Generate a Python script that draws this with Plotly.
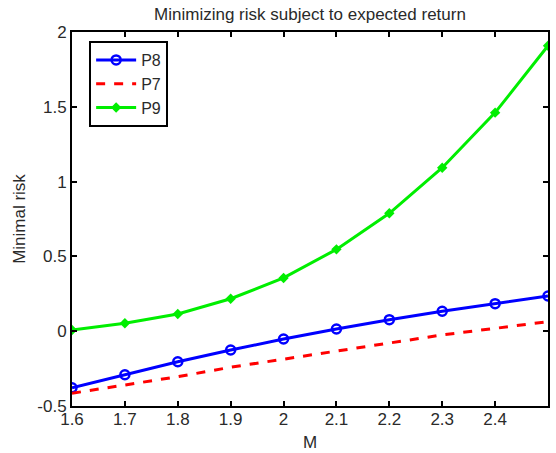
import plotly.graph_objects as go

M = [1.6, 1.7, 1.8, 1.9, 2.0, 2.1, 2.2, 2.3, 2.4, 2.5]
P8 = [-0.378, -0.291, -0.204, -0.126, -0.052, 0.015, 0.077, 0.133, 0.184, 0.235]
P7 = [-0.415, -0.360, -0.304, -0.241, -0.186, -0.132, -0.077, -0.025, 0.019, 0.064]
P9 = [0.008, 0.053, 0.115, 0.217, 0.356, 0.547, 0.788, 1.093, 1.461, 1.908]

x_ticks = [1.6, 1.7, 1.8, 1.9, 2.0, 2.1, 2.2, 2.3, 2.4]
x_ticktext = ["1.6", "1.7", "1.8", "1.9", "2", "2.1", "2.2", "2.3", "2.4"]
y_ticks = [-0.5, 0, 0.5, 1, 1.5, 2]
y_ticktext = ["-0.5", "0", "0.5", "1", "1.5", "2"]

FONT = "Liberation Sans, Arial, sans-serif"
TXT = "#2a2a2a"

fig = go.Figure()
fig.add_trace(go.Scatter(x=M, y=P8, name="P8", mode="lines+markers",
                         line=dict(color="#0000ff", width=3),
                         marker=dict(symbol="circle-open", size=9, color="#0000ff",
                                     line=dict(width=2.5, color="#0000ff"))))
fig.add_trace(go.Scatter(x=M, y=P7, name="P7", mode="lines",
                         line=dict(color="#ff0000", width=3, dash="dash")))
fig.add_trace(go.Scatter(x=M, y=P9, name="P9", mode="lines+markers",
                         line=dict(color="#00ee00", width=3),
                         marker=dict(symbol="diamond", size=8, color="#00ee00")))

fig.update_layout(
    width=556, height=453,
    margin=dict(l=72, r=8, t=32, b=47, autoexpand=False),
    paper_bgcolor="white", plot_bgcolor="white",
    font=dict(family=FONT, size=17, color=TXT),
    title=dict(text="Minimizing risk subject to expected return",
               xref="paper", x=0.5, xanchor="center",
               yref="container", y=1 - 14 / 453, yanchor="middle",
               font=dict(size=17, color=TXT)),
    showlegend=True,
    legend=dict(x=0.036, y=0.976, xanchor="left", yanchor="top",
                bgcolor="white", bordercolor="black", borderwidth=2,
                font=dict(size=16, color=TXT),
                tracegroupgap=0, itemwidth=40),
    xaxis=dict(range=[1.6, 2.5], tickvals=x_ticks, ticktext=x_ticktext,
               ticks="inside", ticklen=5, tickwidth=1.5, tickcolor="black",
               showline=True, linecolor="black", linewidth=2, mirror="ticks",
               showgrid=False, zeroline=False, automargin=False,
               ticklabelstandoff=-3,
               title=dict(text="M", standoff=8, font=dict(size=17)),
               tickfont=dict(size=17)),
    yaxis=dict(range=[-0.5, 2], tickvals=y_ticks, ticktext=y_ticktext,
               ticks="inside", ticklen=5, tickwidth=1.5, tickcolor="black",
               showline=True, linecolor="black", linewidth=2, mirror="ticks",
               showgrid=False, zeroline=False, automargin=False,
               title=dict(text="Minimal risk", standoff=7, font=dict(size=17)),
               tickfont=dict(size=17)),
)

fig.write_html("out.html")
